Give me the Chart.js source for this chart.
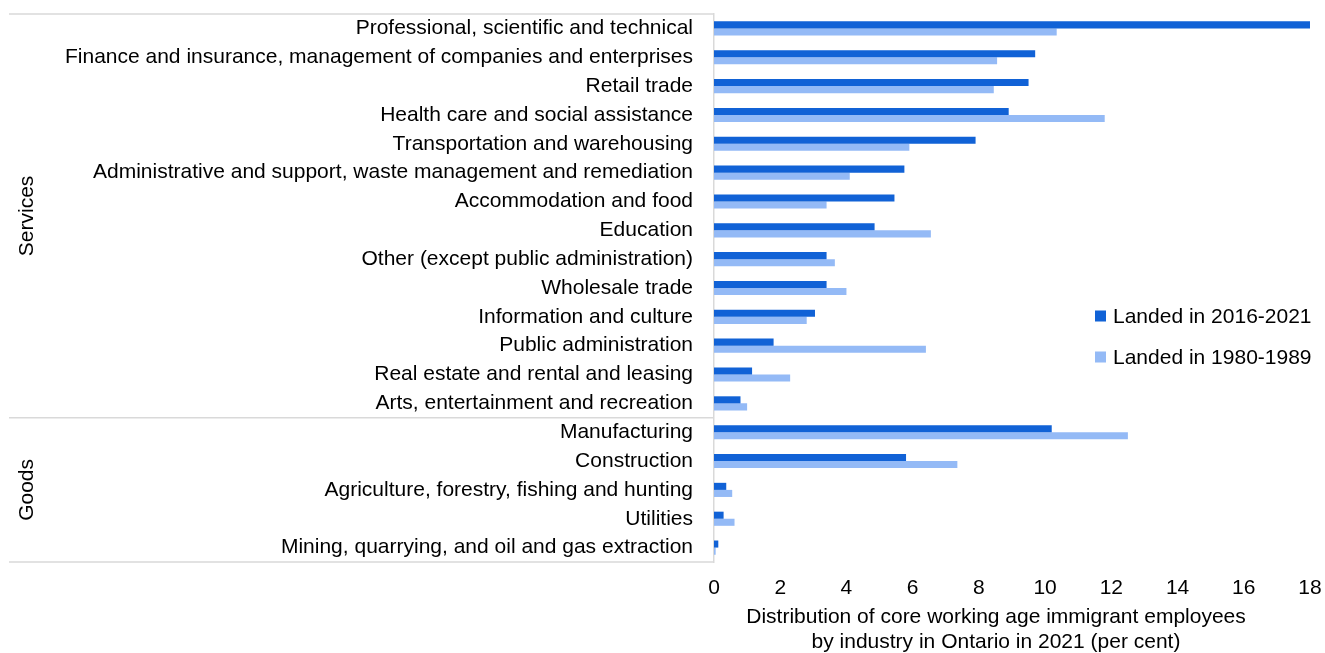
<!DOCTYPE html>
<html>
<head>
<meta charset="utf-8">
<title>Immigrant employees by industry, Ontario 2021</title>
<script src="https://cdn.jsdelivr.net/npm/chart.js@4"></script>
<style>
  body { margin: 0; background: #fff; }
  #wrap { width: 1325px; height: 653px; }
</style>
</head>
<body>
<div id="wrap"><canvas id="myChart" width="1325" height="653"></canvas></div>
<script>
// Industries, top to bottom
const industries = [
  "Professional, scientific and technical",
  "Finance and insurance, management of companies and enterprises",
  "Retail trade",
  "Health care and social assistance",
  "Transportation and warehousing",
  "Administrative and support, waste management and remediation",
  "Accommodation and food",
  "Education",
  "Other (except public administration)",
  "Wholesale trade",
  "Information and culture",
  "Public administration",
  "Real estate and rental and leasing",
  "Arts, entertainment and recreation",
  "Manufacturing",
  "Construction",
  "Agriculture, forestry, fishing and hunting",
  "Utilities",
  "Mining, quarrying, and oil and gas extraction",
];

// Sector groups (label + number of industries in it)
const groupNames = ["Services", "Goods"];
const groupSizes = [14, 5];

const seriesNames = ["Landed in 2016-2021", "Landed in 1980-1989"];

// per cent
const landed2016_2021 = [18.0, 9.7, 9.5, 8.9, 7.9, 5.75, 5.45, 4.85, 3.4, 3.4, 3.05, 1.8, 1.15, 0.8, 10.2, 5.8, 0.37, 0.29, 0.13];
const landed1980_1989 = [10.35, 8.55, 8.45, 11.8, 5.9, 4.1, 3.4, 6.55, 3.65, 4.0, 2.8, 6.4, 2.3, 1.0, 12.5, 7.35, 0.55, 0.62, 0.05];

const xTicks = [0, 2, 4, 6, 8, 10, 12, 14, 16, 18];
const xTitle = [
  "Distribution of core working age immigrant employees",
  "by industry in Ontario in 2021 (per cent)",
];

const FONT = "'Liberation Sans', Arial, sans-serif";
const FONT_SIZE = 21;
const lineColor = "#d9d9d9";

// group labels, separator lines, axis title and legend
const sectorPlugin = {
  id: "sectors",
  afterDraw(chart) {
    const c = chart.ctx;
    const area = chart.chartArea;
    const y = chart.scales.y;
    const step = y.getPixelForValue(1) - y.getPixelForValue(0);

    const bounds = [area.top];
    let idx = 0;
    groupSizes.forEach((n) => {
      idx += n;
      bounds.push(y.getPixelForValue(idx - 1) + step / 2);
    });

    c.save();
    c.strokeStyle = lineColor;
    c.lineWidth = 1.5;
    bounds.forEach((b) => {
      c.beginPath();
      c.moveTo(9, b);
      c.lineTo(area.left, b);
      c.stroke();
    });

    c.fillStyle = "#000";
    c.font = FONT_SIZE + "px " + FONT;
    c.textAlign = "center";
    c.textBaseline = "middle";
    groupNames.forEach((name, i) => {
      c.save();
      c.translate(27, (bounds[i] + bounds[i + 1]) / 2);
      c.rotate(-Math.PI / 2);
      c.fillText(name, 0, 0);
      c.restore();
    });

    // x axis title, two lines
    xTitle.forEach((line, i) => {
      c.fillText(line, 996, 617 + i * 25);
    });

    // legend
    c.textAlign = "left";
    chart.data.datasets.forEach((ds, i) => {
      const cy = 316 + i * 41;
      c.fillStyle = ds.backgroundColor;
      c.fillRect(1095, cy - 5.5, 11, 11);
      c.fillStyle = "#000";
      c.fillText(ds.label, 1113, cy + 1);
    });
    c.restore();
  },
};

const ctx = document.getElementById("myChart").getContext("2d");

new Chart(ctx, {
  type: "bar",
  data: {
    labels: industries,
    datasets: [
      { label: seriesNames[0], data: landed2016_2021, backgroundColor: "#1162d6" },
      { label: seriesNames[1], data: landed1980_1989, backgroundColor: "#94baf6" },
    ],
  },
  options: {
    indexAxis: "y",
    responsive: false,
    animation: false,
    layout: { padding: { top: 14, right: 15, left: 0, bottom: 0 } },
    datasets: {
      bar: { categoryPercentage: 0.49, barPercentage: 1.0 },
    },
    scales: {
      x: {
        min: 0,
        max: 18,
        afterBuildTicks: (axis) => {
          axis.ticks = xTicks.map((v) => ({ value: v }));
        },
        afterFit: (axis) => {
          axis.height = 91;
          axis.paddingLeft = 0;
          axis.paddingRight = 0;
        },
        grid: { display: false, drawTicks: false },
        border: { display: false },
        ticks: {
          padding: 14,
          color: "#000",
          font: { family: FONT, size: FONT_SIZE },
        },
      },
      y: {
        afterFit: (axis) => {
          axis.width = 714;
          axis.paddingTop = 0;
          axis.paddingBottom = 0;
        },
        grid: { display: false, drawTicks: false },
        border: { display: true, color: lineColor, width: 1.5 },
        ticks: {
          padding: 21,
          autoSkip: false,
          color: "#000",
          font: { family: FONT, size: FONT_SIZE },
        },
      },
    },
    plugins: {
      legend: { display: false },
      tooltip: { enabled: false },
    },
  },
  plugins: [sectorPlugin],
});
</script>
</body>
</html>
